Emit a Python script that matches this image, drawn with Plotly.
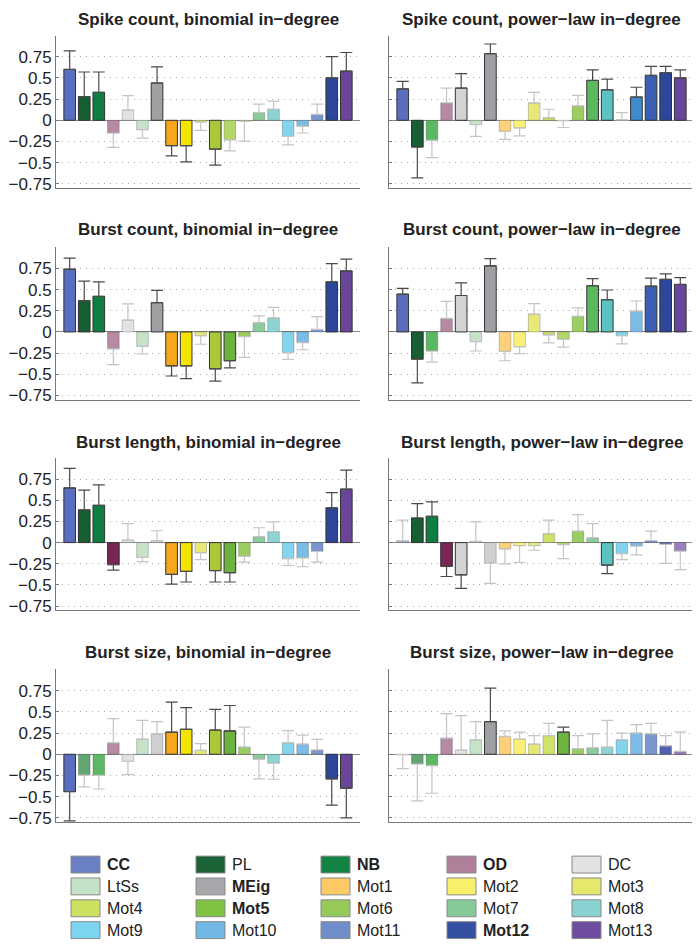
import plotly.graph_objects as go

categories = ["CC", "PL", "NB", "OD", "DC", "LtSs", "MEig", "Mot1", "Mot2", "Mot3",
              "Mot4", "Mot5", "Mot6", "Mot7", "Mot8", "Mot9", "Mot10", "Mot11", "Mot12", "Mot13"]
bold_labels = ["CC", "NB", "OD", "MEig", "Mot5", "Mot12"]

panel_titles = ["Spike count, binomial in−degree", "Spike count, power−law in−degree",
                "Burst count, binomial in−degree", "Burst count, power−law in−degree",
                "Burst length, binomial in−degree", "Burst length, power−law in−degree",
                "Burst size, binomial in−degree", "Burst size, power−law in−degree"]

# correlation values (bar heights)
spike_bin_val = [0.60, 0.28, 0.33, -0.15, 0.12, -0.11, 0.44, -0.30, -0.30, -0.02, -0.34, -0.23, -0.01, 0.09, 0.13, -0.19, -0.07, 0.07, 0.50, 0.58]
spike_pl_val = [0.37, -0.315, -0.235, 0.205, 0.38, -0.05, 0.785, -0.13, -0.09, 0.205, 0.03, -0.005, 0.17, 0.47, 0.36, 0.005, 0.275, 0.53, 0.56, 0.50]
burst_bin_val = [0.74, 0.37, 0.42, -0.20, 0.14, -0.17, 0.345, -0.40, -0.40, -0.045, -0.435, -0.34, -0.055, 0.11, 0.165, -0.245, -0.125, 0.03, 0.59, 0.72]
burst_pl_val = [0.445, -0.32, -0.225, 0.16, 0.43, -0.115, 0.78, -0.23, -0.175, 0.21, -0.035, -0.085, 0.185, 0.545, 0.38, -0.045, 0.245, 0.54, 0.62, 0.56]
length_bin_val = [0.645, 0.385, 0.44, -0.26, 0.03, -0.175, 0.025, -0.375, -0.34, -0.12, -0.33, -0.355, -0.16, 0.07, 0.13, -0.19, -0.18, -0.105, 0.41, 0.63]
length_pl_val = [0.025, 0.29, 0.31, -0.28, -0.38, 0.015, -0.24, -0.075, -0.035, -0.035, 0.105, -0.025, 0.135, 0.055, -0.265, -0.13, -0.04, 0.025, -0.02, -0.10]
size_bin_val = [-0.44, -0.245, -0.25, 0.135, -0.085, 0.18, 0.24, 0.26, 0.295, 0.045, 0.285, 0.275, 0.085, -0.06, -0.105, 0.135, 0.12, 0.05, -0.29, -0.40]
size_pl_val = [-0.005, -0.115, -0.135, 0.19, 0.05, 0.17, 0.385, 0.21, 0.18, 0.12, 0.22, 0.26, 0.065, 0.075, 0.085, 0.17, 0.25, 0.24, 0.10, 0.035]

# one-sided error extents (away from zero)
spike_bin_err = [0.22, 0.29, 0.24, 0.17, 0.17, 0.10, 0.19, 0.12, 0.19, 0.10, 0.19, 0.13, 0.235, 0.10, 0.095, 0.10, 0.08, 0.12, 0.25, 0.22]
spike_pl_err = [0.09, 0.365, 0.205, 0.175, 0.17, 0.14, 0.115, 0.095, 0.095, 0.125, 0.10, 0.08, 0.125, 0.125, 0.125, 0.085, 0.115, 0.105, 0.075, 0.095]
burst_bin_err = [0.13, 0.23, 0.17, 0.185, 0.19, 0.09, 0.145, 0.12, 0.15, 0.10, 0.145, 0.085, 0.245, 0.08, 0.125, 0.08, 0.085, 0.15, 0.215, 0.14]
burst_pl_err = [0.07, 0.28, 0.13, 0.20, 0.15, 0.11, 0.085, 0.11, 0.08, 0.125, 0.095, 0.095, 0.10, 0.085, 0.115, 0.095, 0.12, 0.095, 0.065, 0.08]
length_bin_err = [0.23, 0.235, 0.24, 0.065, 0.195, 0.05, 0.115, 0.115, 0.125, 0.08, 0.135, 0.11, 0.07, 0.105, 0.115, 0.08, 0.105, 0.125, 0.18, 0.225]
length_pl_err = [0.24, 0.17, 0.17, 0.12, 0.16, 0.23, 0.24, 0.175, 0.20, 0.055, 0.16, 0.165, 0.195, 0.17, 0.10, 0.07, 0.105, 0.11, 0.225, 0.22]
size_bin_err = [0.345, 0.14, 0.16, 0.285, 0.155, 0.22, 0.145, 0.355, 0.255, 0.08, 0.245, 0.30, 0.235, 0.23, 0.19, 0.145, 0.105, 0.125, 0.31, 0.35]
size_pl_err = [0.165, 0.435, 0.325, 0.29, 0.405, 0.215, 0.395, 0.065, 0.08, 0.10, 0.145, 0.06, 0.155, 0.165, 0.315, 0.08, 0.10, 0.125, 0.12, 0.23]

# significance flags (1 = significant, drawn strong)
spike_bin_sig = [1, 1, 1, 0, 0, 0, 1, 1, 1, 0, 1, 0, 0, 0, 0, 0, 0, 0, 1, 1]
spike_pl_sig = [1, 1, 0, 0, 1, 0, 1, 0, 0, 0, 0, 0, 0, 1, 1, 0, 1, 1, 1, 1]
burst_bin_sig = [1, 1, 1, 0, 0, 0, 1, 1, 1, 0, 1, 1, 0, 0, 0, 0, 0, 0, 1, 1]
burst_pl_sig = [1, 1, 0, 0, 1, 0, 1, 0, 0, 0, 0, 0, 0, 1, 1, 0, 0, 1, 1, 1]
length_bin_sig = [1, 1, 1, 1, 0, 0, 0, 1, 1, 0, 1, 1, 0, 0, 0, 0, 0, 0, 1, 1]
length_pl_sig = [0, 1, 1, 1, 1, 0, 0, 0, 0, 0, 0, 0, 0, 0, 1, 0, 0, 0, 0, 0]
size_bin_sig = [1, 0, 0, 0, 0, 0, 0, 1, 1, 0, 1, 1, 0, 0, 0, 0, 0, 0, 1, 1]
size_pl_sig = [0, 0, 0, 0, 0, 0, 1, 0, 0, 0, 0, 1, 0, 0, 0, 0, 0, 0, 0, 0]

ytick_vals = [-0.75, -0.5, -0.25, 0, 0.25, 0.5, 0.75]
ytick_text = ["−0.75", "−0.5", "−0.25", "0", "0.25", "0.5", "0.75"]

# styles
legend_colors = ["#6b7fc5", "#1b6236", "#138245", "#b0809a", "#e2e2e2", "#c4e2c7", "#a7a8ab",
                 "#fdcb66", "#f9f06a", "#e6e86c", "#cde05f", "#80c242", "#95ca58", "#87ca9a",
                 "#88d2d2", "#7dd4ee", "#72b8e6", "#6f8dc8", "#3450a0", "#6e4c9f"]
strong_colors = ["#5a6ebf", "#175f33", "#0f7f41", "#7a2654", "#d3d3d3", "#a8d5b0", "#9fa0a3",
                 "#f7a71c", "#f7e300", "#dfe050", "#a9c83a", "#6db33f", "#7cc04a", "#5cb85c",
                 "#5cc3c0", "#4fc3e8", "#3e8bd0", "#3a5fb3", "#2c4799", "#6a469b"]
pale_colors = ["#a7b2de", "#64a574", "#5cb865", "#b58aa2", "#e2e2e2", "#c6e3ca", "#cfcfd1",
               "#fdd07a", "#f9f07a", "#e6e87a", "#cfe26a", "#b3d86a", "#9ccd60", "#8ccb9c",
               "#8dd3d2", "#84d4ee", "#7abbe7", "#7b96cf", "#5262b0", "#9a7fbf"]

panels = [
    (spike_bin_val, spike_bin_err, spike_bin_sig),
    (spike_pl_val, spike_pl_err, spike_pl_sig),
    (burst_bin_val, burst_bin_err, burst_bin_sig),
    (burst_pl_val, burst_pl_err, burst_pl_sig),
    (length_bin_val, length_bin_err, length_bin_sig),
    (length_pl_val, length_pl_err, length_pl_sig),
    (size_bin_val, size_bin_err, size_bin_sig),
    (size_pl_val, size_pl_err, size_pl_sig),
]

W, H = 700, 950
FONT = "Liberation Sans, Arial, Helvetica, sans-serif"
col_px = [(48, 352), (381, 686)]
row_zero_px = [113, 326, 538, 751]
unit_px = 85.3
y_lo, y_hi = -0.8, 1.0

fig = go.Figure()
layout = dict(width=W, height=H, margin=dict(l=0, r=0, t=0, b=0),
              paper_bgcolor="white", plot_bgcolor="white", barmode="overlay",
              showlegend=False, font=dict(family=FONT, color="#222", size=15))
annotations = []
shapes = []

positions = list(range(1, len(categories) + 1))

for i, (vals, errs, sig) in enumerate(panels):
    r, c = divmod(i, 2)
    n = i + 1
    xa = "x" if n == 1 else f"x{n}"
    ya = "y" if n == 1 else f"y{n}"
    x0, x1 = col_px[c]
    z = row_zero_px[r]
    top = z - unit_px * y_hi
    bot = z - unit_px * y_lo
    layout["xaxis" if n == 1 else f"xaxis{n}"] = dict(
        domain=[x0 / W, x1 / W], anchor=ya, range=[0.06, 20.94],
        showgrid=False, zeroline=False, showticklabels=False, ticks="",
        showline=True, linecolor="#777", linewidth=1, fixedrange=True)
    layout["yaxis" if n == 1 else f"yaxis{n}"] = dict(
        domain=[1 - bot / H, 1 - top / H], anchor=xa, range=[y_lo, y_hi],
        tickvals=ytick_vals, ticktext=ytick_text, showticklabels=(c == 0),
        tickfont=dict(size=17, color="#222", family=FONT),
        ticks="inside", ticklen=3, tickcolor="#777",
        showgrid=True, gridcolor="#aaa", gridwidth=1, griddash="1px,5px",
        zeroline=True, zerolinecolor="#888", zerolinewidth=1.2,
        showline=True, linecolor="#777", linewidth=1, fixedrange=True)

    for flag in (0, 1):
        idx = [k for k in range(len(categories)) if sig[k] == flag]
        if not idx:
            continue
        xs = [positions[k] for k in idx]
        ys = [vals[k] for k in idx]
        plus = [errs[k] if vals[k] >= 0 else 0 for k in idx]
        minus = [errs[k] if vals[k] < 0 else 0 for k in idx]
        cols = [(strong_colors if flag else pale_colors)[k] for k in idx]
        fig.add_trace(go.Bar(
            x=xs, y=ys, width=0.8, xaxis=xa, yaxis=ya,
            marker=dict(color=cols,
                        line=dict(color="#333333" if flag else "rgba(0,0,0,0.2)", width=1)),
            error_y=dict(type="data", symmetric=False, array=plus, arrayminus=minus,
                         color="#4a4a4a" if flag else "#c4c4c4", thickness=1.2, width=6),
            hoverinfo="skip"))

    title_y_px = [12, 223, 437, 649][r]
    annotations.append(dict(
        text=f"<b>{panel_titles[i]}</b>", xref="paper", yref="paper",
        x=(x0 + x1) / 2 / W, y=1 - title_y_px / H, xanchor="center", yanchor="middle",
        showarrow=False, font=dict(size=17, family=FONT, color="#222")))

# legend (5 columns x 4 rows)
leg_col_px = [63, 188, 313, 439, 564]
leg_row_px = [862, 884, 906, 928]
sw_w, sw_h = 29, 17
for k, name in enumerate(categories):
    rr, cc = divmod(k, 5)
    lx = leg_col_px[cc]
    ly = leg_row_px[rr]
    shapes.append(dict(type="rect", xref="paper", yref="paper",
                       x0=lx / W, x1=(lx + sw_w) / W,
                       y0=1 - (ly + sw_h / 2) / H, y1=1 - (ly - sw_h / 2) / H,
                       fillcolor=legend_colors[k], line=dict(color="#888", width=1)))
    label = f"<b>{name}</b>" if name in bold_labels else name
    annotations.append(dict(text=label, xref="paper", yref="paper",
                            x=(lx + sw_w + 5) / W, y=1 - ly / H,
                            xanchor="left", yanchor="middle", showarrow=False,
                            font=dict(size=16, family=FONT, color="#222")))

layout["annotations"] = annotations
layout["shapes"] = shapes
fig.update_layout(**layout)
fig.write_html("out.html")
